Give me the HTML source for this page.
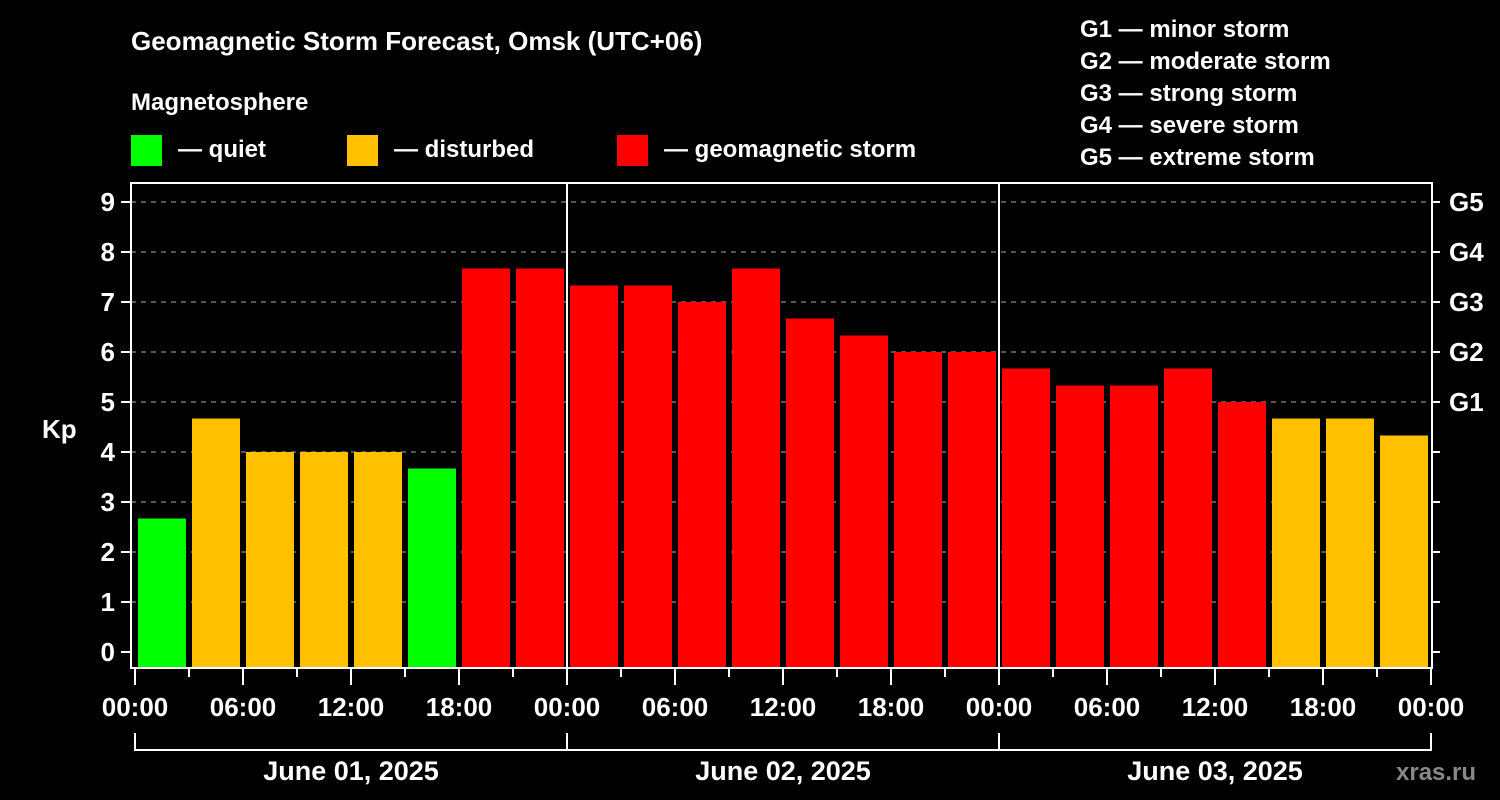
<!DOCTYPE html>
<html><head><meta charset="utf-8"><style>
body{margin:0;background:#000;}
svg{display:block;font-family:"Liberation Sans",Arial,sans-serif;font-weight:bold;}
</style></head><body>
<svg id="chart" width="1500" height="800" viewBox="0 0 1500 800">
<rect width="1500" height="800" fill="#000"/>
<text x="131" y="50" fill="#fff" font-size="26">Geomagnetic Storm Forecast, Omsk (UTC+06)</text>
<text x="131" y="110" fill="#fff" font-size="24">Magnetosphere</text>
<g><rect x="131" y="135" width="31" height="31" fill="#00ff00"/><text x="178" y="157" fill="#fff" font-size="24">— quiet</text></g>
<g><rect x="347" y="135" width="31" height="31" fill="#ffc000"/><text x="394" y="157" fill="#fff" font-size="24">— disturbed</text></g>
<g><rect x="617" y="135" width="31" height="31" fill="#ff0000"/><text x="664" y="157" fill="#fff" font-size="24">— geomagnetic storm</text></g>
<g fill="#fff" font-size="24">
<text x="1080" y="37">G1 — minor storm</text>
<text x="1080" y="69">G2 — moderate storm</text>
<text x="1080" y="101">G3 — strong storm</text>
<text x="1080" y="133">G4 — severe storm</text>
<text x="1080" y="165">G5 — extreme storm</text>
</g>
<text x="42" y="438" fill="#fff" font-size="26">Kp</text>
<text x="1396" y="780" fill="#888" font-size="24">xras.ru</text>
<g id="grid"></g><g id="bars"></g><g id="axes"></g>
</svg>
<script>
const kpValues=[2.67,4.67,4,4,4,3.67,7.67,7.67,7.33,7.33,7,7.67,6.67,6.33,6,6,5.67,5.33,5.33,5.67,5,4.67,4.67,4.33];
const yTicks=[0,1,2,3,4,5,6,7,8,9];
const gLabels=["G1","G2","G3","G4","G5"];
const gLevels=[5,6,7,8,9];
const xTickLabels=["00:00","06:00","12:00","18:00","00:00","06:00","12:00","18:00","00:00","06:00","12:00","18:00","00:00"];
const dayLabels=["June 01, 2025","June 02, 2025","June 03, 2025"];
const NS="http://www.w3.org/2000/svg";
const X0=135,SLOT=54,Y0=652,UNIT=50,TOP=183,BOT=668,LEFT=131,RIGHT=1432;
const xs=i=>X0+i*SLOT, ys=v=>Y0-v*UNIT;
function mk(tag,attrs,parent,text){const e=document.createElementNS(NS,tag);for(const k in attrs)e.setAttribute(k,attrs[k]);if(text!==undefined)e.textContent=text;parent.appendChild(e);return e;}
const grid=document.getElementById('grid'),bars=document.getElementById('bars'),axes=document.getElementById('axes');
yTicks.forEach(v=>{
 if(v>0){const l=mk('line',{x1:LEFT,x2:RIGHT,y1:ys(v),y2:ys(v),stroke:'#888','stroke-width':1.3,'stroke-dasharray':'5,5'},grid);
 
 }
 const t=mk('line',{x1:LEFT-10,x2:LEFT,y1:ys(v),y2:ys(v),stroke:'#fff','stroke-width':2},axes);
 const r=mk('line',{x1:RIGHT,x2:RIGHT+8,y1:ys(v),y2:ys(v),stroke:'#fff','stroke-width':2},axes);
 const tx=mk('text',{x:115,y:ys(v)+9,fill:'#fff','font-size':26,'text-anchor':'end'},axes,String(v));
 
 
});
gLabels.forEach((g,i)=>{
 const t=mk('text',{x:1449,y:ys(gLevels[i])+9,fill:'#fff','font-size':26},axes,g);
 
 
});
[1,2].forEach(d=>{mk('line',{x1:xs(d*8),x2:xs(d*8),y1:TOP,y2:BOT,stroke:'#fff','stroke-width':2},grid);});
kpValues.forEach((v,i)=>{
 const c=v>=5?'#ff0000':(v>=4?'#ffc000':'#00ff00');
 const b=mk('rect',{x:xs(i)+3,y:ys(v),width:SLOT-6,height:BOT-ys(v),fill:c},bars);
 
 
});
mk('rect',{x:LEFT,y:TOP,width:RIGHT-LEFT,height:BOT-TOP,fill:'none',stroke:'#fff','stroke-width':2},axes);
for(let i=0;i<=24;i++){
 const major=i%2===0;
 mk('line',{x1:xs(i),x2:xs(i),y1:BOT,y2:major?685:677,stroke:'#fff','stroke-width':2},axes);
}
xTickLabels.forEach((s,i)=>{
 const t=mk('text',{x:xs(i*2),y:716,fill:'#fff','font-size':26,'text-anchor':'middle'},axes,s);
 
 
});
mk('path',{d:`M${xs(0)},733V750H${xs(24)}V733`,fill:'none',stroke:'#fff','stroke-width':2},axes);
[1,2].forEach(d=>mk('line',{x1:xs(d*8),x2:xs(d*8),y1:733,y2:750,stroke:'#fff','stroke-width':2},axes));
dayLabels.forEach((s,i)=>{
 const t=mk('text',{x:xs(i*8+4),y:780,fill:'#fff','font-size':27,'text-anchor':'middle'},axes,s);
 
 
});
</script>
</body></html>
